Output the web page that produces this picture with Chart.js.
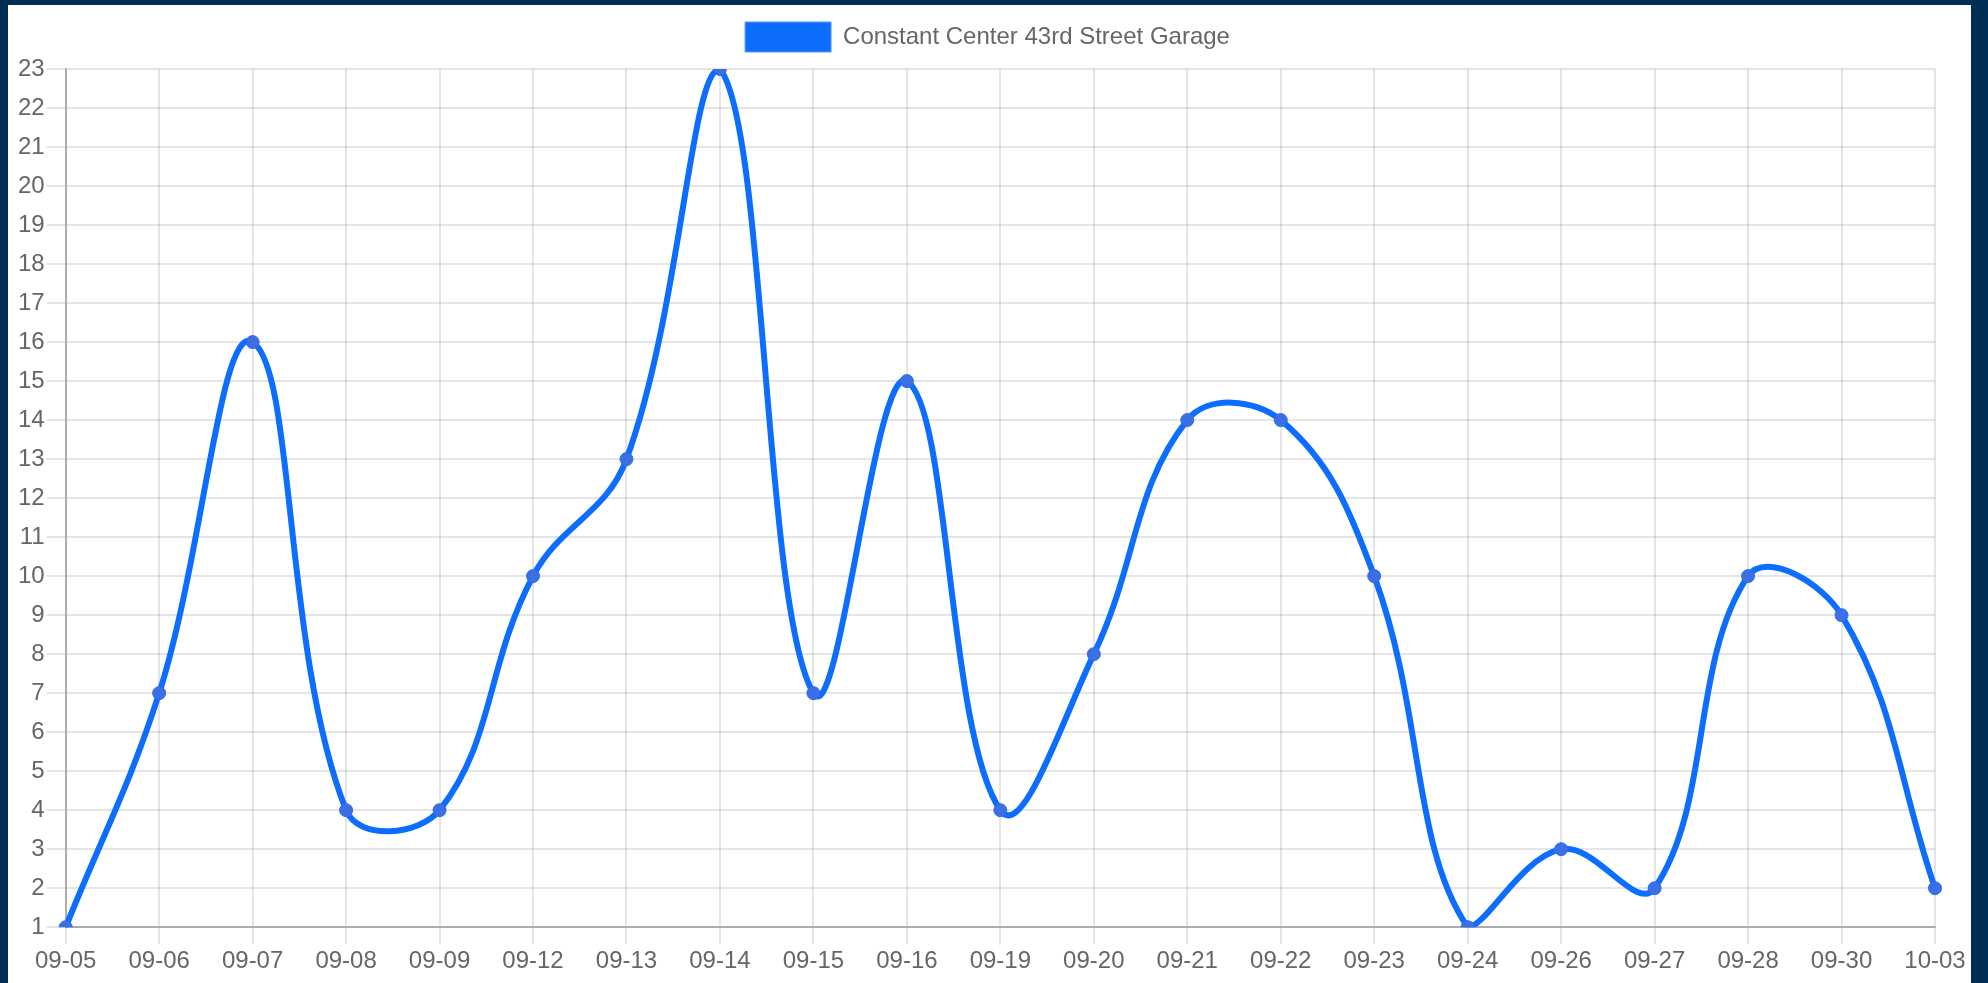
<!DOCTYPE html>
<html>
<head>
<meta charset="utf-8">
<script src="https://cdn.jsdelivr.net/npm/chart.js@4/dist/chart.umd.min.js"></script>
<style>
  html, body { margin: 0; padding: 0; background: #002f56; width: 1988px; height: 983px; overflow: hidden; }
  #wrap { position: absolute; left: 8px; top: 5px; width: 1963px; height: 978px; background: #ffffff; }
  canvas { display: block; }
</style>
</head>
<body>
<div id="wrap"><canvas id="c" width="1963" height="978"></canvas></div>
<script>
const categories = ["09-05","09-06","09-07","09-08","09-09","09-12","09-13","09-14","09-15","09-16","09-19","09-20","09-21","09-22","09-23","09-24","09-26","09-27","09-28","09-30","10-03"];
const seriesName = "Constant Center 43rd Street Garage";
const seriesValues = [1,7,16,4,4,10,13,23,7,15,4,8,14,14,10,1,3,2,10,9,2];
const yMin = 1, yMax = 23, yStep = 1;

Chart.defaults.font.family = '"Liberation Sans", Arial, Helvetica, sans-serif';
Chart.defaults.font.size = 24;
Chart.defaults.color = '#666666';

const legendTweak = {
  id: 'legendTweak',
  afterInit(chart) {
    const lg = chart.legend;
    if (lg) {
      const f = lg.fit;
      lg.fit = function () { f.call(this); this.height += 7; };
    }
  },
  afterLayout(chart) {
    if (chart.legend) { chart.legend.left += 12; chart.legend.right += 12; }
  }
};

new Chart(document.getElementById('c'), {
  type: 'line',
  data: {
    labels: categories,
    datasets: [{
      label: seriesName,
      data: seriesValues,
      borderColor: '#0d6efd',
      backgroundColor: '#0d6efd',
      pointBackgroundColor: '#3b6fe3',
      pointBorderColor: '#2f6cf0',
      pointBorderWidth: 1,
      pointRadius: 6.5,
      borderWidth: 6,
      tension: 0.4,
      fill: false
    }]
  },
  options: {
    responsive: false,
    animation: false,
    devicePixelRatio: 1,
    layout: { padding: { left: 8, right: 36, top: 0, bottom: 4 } },
    plugins: {
      legend: {
        display: true,
        position: 'top',
        labels: {
          boxWidth: 86, boxHeight: 30, padding: 17, font: { size: 24 },
          generateLabels: (chart) => Chart.defaults.plugins.legend.labels.generateLabels(chart).map(l => Object.assign(l, { lineWidth: 1, strokeStyle: '#5a9bff' }))
        }
      },
      tooltip: { enabled: false }
    },
    scales: {
      x: {
        grid: { color: 'rgba(0,0,0,0.1)', tickLength: 17, lineWidth: 2 },
        border: { color: 'rgba(0,0,0,0.25)', width: 2 },
        ticks: { padding: 3, maxRotation: 0, autoSkip: false }
      },
      y: {
        min: yMin, max: yMax,
        grid: { color: 'rgba(0,0,0,0.1)', tickLength: 19, lineWidth: 2 },
        border: { color: 'rgba(0,0,0,0.25)', width: 2 },
        ticks: { stepSize: yStep, padding: 2 }
      }
    }
  },
  plugins: [legendTweak]
});
</script>
</body>
</html>
